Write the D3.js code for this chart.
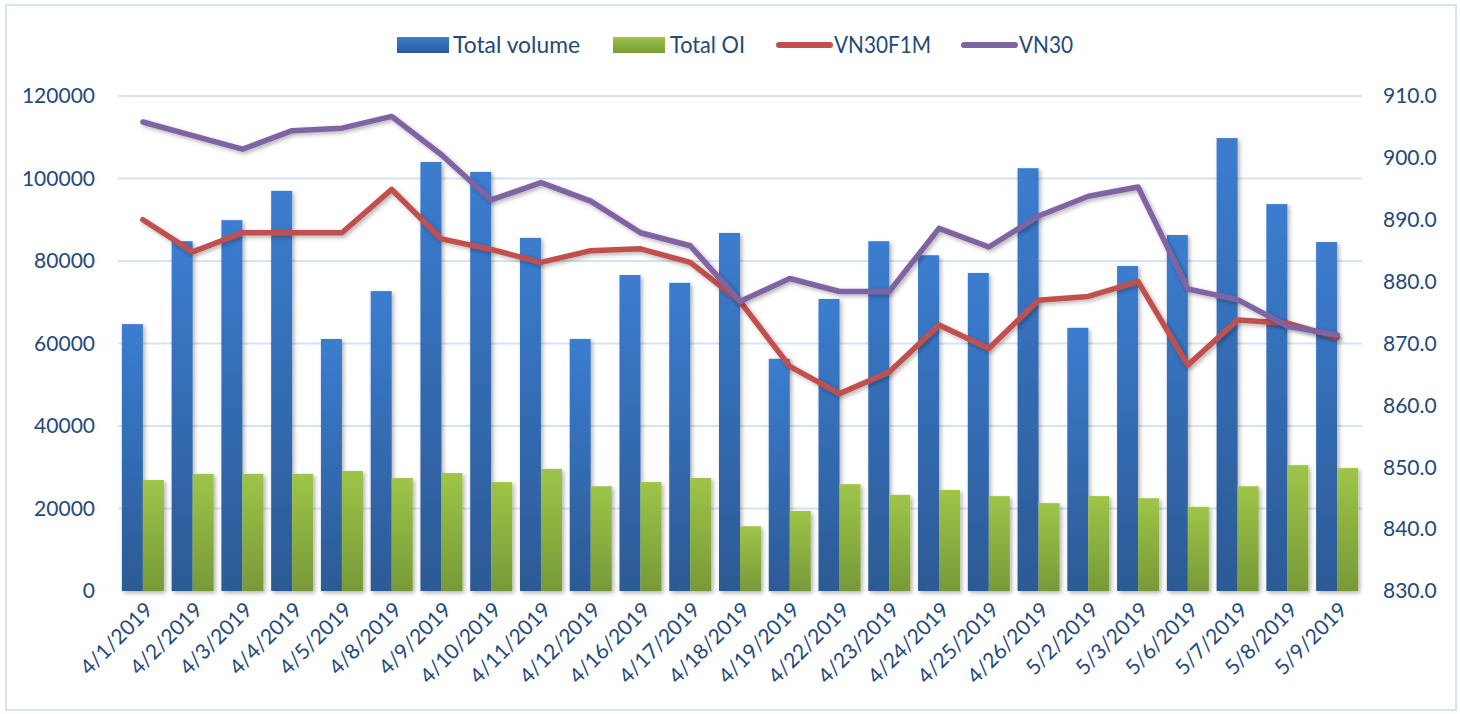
<!DOCTYPE html>
<html lang="en">
<head>
<meta charset="UTF-8">
<title>Volume, OI, VN30F1M and VN30</title>
<script src="https://d3js.org/d3.v7.min.js"></script>
<style>
  html, body { margin: 0; padding: 0; background: #fff; }
  svg text { font-family: Lato, "Open Sans", sans-serif; fill: #23497b; }
</style>
</head>
<body>
<svg id="chart" width="1460" height="714"></svg>
<script>
// data
const dates = ["4/1/2019","4/2/2019","4/3/2019","4/4/2019","4/5/2019","4/8/2019","4/9/2019",
  "4/10/2019","4/11/2019","4/12/2019","4/16/2019","4/17/2019","4/18/2019","4/19/2019",
  "4/22/2019","4/23/2019","4/24/2019","4/25/2019","4/26/2019","5/2/2019","5/3/2019",
  "5/6/2019","5/7/2019","5/8/2019","5/9/2019"];
const totalVolume = [64700, 84800, 89900, 97000, 61100, 72700, 104000, 101600, 85600, 61100,
  76600, 74700, 86800, 56300, 70800, 84800, 81400, 77100, 102500, 63800, 78800, 86300,
  109800, 93800, 84600];
const totalOI = [26900, 28400, 28400, 28400, 29100, 27400, 28600, 26400, 29600, 25400,
  26400, 27400, 15700, 19400, 25900, 23300, 24500, 23000, 21300, 23000, 22500, 20400,
  25400, 30500, 29800];
const vn30f1m = [890.0, 884.8, 887.9, 887.9, 887.9, 894.9, 886.9, 885.2, 883.1, 885.0,
  885.3, 883.1, 876.8, 866.3, 861.9, 865.4, 873.0, 869.2, 877.0, 877.6, 880.0, 866.5,
  873.8, 873.3, 871.0];
const vn30 = [905.8, 903.6, 901.4, 904.4, 904.8, 906.7, 900.5, 893.2, 896.0, 893.0,
  887.9, 885.8, 876.8, 880.5, 878.4, 878.4, 888.6, 885.6, 890.6, 893.8, 895.3, 878.8,
  877.1, 872.8, 871.4];
const leftTicks = [0, 20000, 40000, 60000, 80000, 100000, 120000];
const rightTicks = [830, 840, 850, 860, 870, 880, 890, 900, 910];

const svg = d3.select("#chart");
const m = { left: 118, right: 1362, top: 96, bottom: 591 };

// outer frame
svg.append("rect").attr("x", 6).attr("y", 5).attr("width", 1450).attr("height", 705)
  .attr("fill", "none").attr("stroke", "#d6e3f3").attr("stroke-width", 2);

const defs = svg.append("defs");
const gBlue = defs.append("linearGradient").attr("id", "gBlue").attr("x1", 0).attr("y1", 0).attr("x2", 0).attr("y2", 1);
gBlue.append("stop").attr("offset", "0%").attr("stop-color", "#3b7dd0");
gBlue.append("stop").attr("offset", "100%").attr("stop-color", "#2c5a95");
const gGreen = defs.append("linearGradient").attr("id", "gGreen").attr("x1", 0).attr("y1", 0).attr("x2", 0).attr("y2", 1);
gGreen.append("stop").attr("offset", "0%").attr("stop-color", "#9ec548");
gGreen.append("stop").attr("offset", "100%").attr("stop-color", "#779a38");
const shadow = defs.append("filter").attr("id", "shadow").attr("x", "-30%").attr("y", "-10%").attr("width", "160%").attr("height", "130%");
shadow.append("feDropShadow").attr("dx", 2).attr("dy", 2).attr("stdDeviation", 2)
  .attr("flood-color", "#000").attr("flood-opacity", 0.3);

const x = d3.scaleBand().domain(dates).range([m.left, m.right]).paddingInner(0).paddingOuter(0);
const yL = d3.scaleLinear().domain([0, 120000]).range([m.bottom, m.top]);
const yR = d3.scaleLinear().domain([830, 910]).range([m.bottom, m.top]);
const barW = 21;

// gridlines
svg.append("g").selectAll("line").data(leftTicks.slice(1)).join("line")
  .attr("x1", m.left).attr("x2", m.right)
  .attr("y1", d => yL(d)).attr("y2", d => yL(d))
  .attr("stroke", "#d7e3f2").attr("stroke-width", 2);

// left axis labels
svg.append("g").selectAll("text").data(leftTicks).join("text")
  .attr("x", 95).attr("y", d => yL(d)).attr("dy", "0.35em")
  .attr("text-anchor", "end").attr("font-size", 21).text(d => d);

// right axis labels
svg.append("g").selectAll("text").data(rightTicks).join("text")
  .attr("x", 1383).attr("y", d => yR(d)).attr("dy", "0.35em")
  .attr("text-anchor", "start").attr("font-size", 21).text(d => d.toFixed(1));

// bars
const bars = svg.append("g").attr("filter", "url(#shadow)");
bars.selectAll("rect.vol").data(totalVolume).join("rect").attr("class", "vol")
  .attr("x", (d, i) => x(dates[i]) + x.bandwidth() / 2 - barW)
  .attr("y", d => yL(d)).attr("width", barW).attr("height", d => yL(0) - yL(d))
  .attr("fill", "url(#gBlue)");
bars.selectAll("rect.oi").data(totalOI).join("rect").attr("class", "oi")
  .attr("x", (d, i) => x(dates[i]) + x.bandwidth() / 2)
  .attr("y", d => yL(d)).attr("width", barW).attr("height", d => yL(0) - yL(d))
  .attr("fill", "url(#gGreen)");

// baseline
svg.append("line").attr("x1", m.left).attr("x2", m.right)
  .attr("y1", m.bottom + 1).attr("y2", m.bottom + 1)
  .attr("stroke", "#d3dcea").attr("stroke-width", 2).attr("filter", "url(#shadow)");

// lines
const line = d3.line().x((d, i) => x(dates[i]) + x.bandwidth() / 2).y(d => yR(d));
svg.append("path").datum(vn30f1m).attr("d", line)
  .attr("fill", "none").attr("stroke", "#c0504d").attr("stroke-width", 5.5)
  .attr("stroke-linejoin", "round").attr("stroke-linecap", "round").attr("filter", "url(#shadow)");
svg.append("path").datum(vn30).attr("d", line)
  .attr("fill", "none").attr("stroke", "#8064a2").attr("stroke-width", 5.5)
  .attr("stroke-linejoin", "round").attr("stroke-linecap", "round").attr("filter", "url(#shadow)");

// x labels
svg.append("g").selectAll("text").data(dates).join("text")
  .attr("transform", d => `translate(${x(d) + x.bandwidth() / 2 + 6},${606}) rotate(-45)`)
  .attr("text-anchor", "end").attr("dy", "0.35em").attr("font-size", 21).text(d => d);

// legend (text squeezed a little to match the narrow original face)
const legend = svg.append("g");
legend.append("rect").attr("x", 397).attr("y", 37).attr("width", 52).attr("height", 16).attr("fill", "url(#gBlue)");
legend.append("rect").attr("x", 613).attr("y", 37).attr("width", 52).attr("height", 16).attr("fill", "url(#gGreen)");
legend.append("line").attr("x1", 779).attr("x2", 830).attr("y1", 45).attr("y2", 45)
  .attr("stroke", "#c0504d").attr("stroke-width", 6).attr("stroke-linecap", "round");
legend.append("line").attr("x1", 964).attr("x2", 1015).attr("y1", 45).attr("y2", 45)
  .attr("stroke", "#8064a2").attr("stroke-width", 6).attr("stroke-linecap", "round");
const legendText = [["Total volume", 453, 127], ["Total OI", 670, 75], ["VN30F1M", 834, 97], ["VN30", 1019, 54]];
legend.selectAll("text").data(legendText).join("text")
  .attr("x", d => d[1]).attr("y", 45).attr("dy", "0.35em").attr("font-size", 23)
  .attr("textLength", d => d[2]).attr("lengthAdjust", "spacingAndGlyphs")
  .text(d => d[0]);
</script>
</body>
</html>
